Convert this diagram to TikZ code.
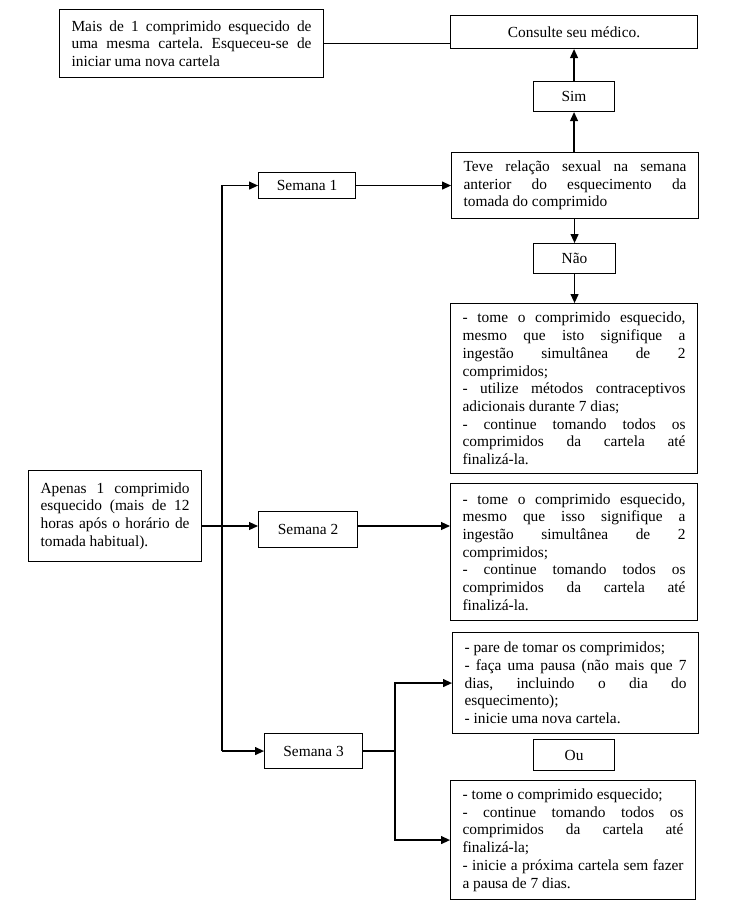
\documentclass[tikz,border=0pt]{standalone}
\usepackage{fontspec}
\setmainfont{Liberation Serif}
\usetikzlibrary{arrows.meta}
\newcommand\bxfont{\fontsize{15.4}{17.7}\selectfont\frenchspacing\hyphenpenalty=10000\exhyphenpenalty=10000\tolerance=10000\hbadness=10000\emergencystretch=0pt}
\tikzset{
  bx/.style={draw, line width=1.1pt, anchor=north west, font=\bxfont, inner ysep=0pt},
  tb/.style={bx, inner xsep=12pt, align=justify},
  sb/.style={bx, inner xsep=0pt, align=center},
  ln/.style={line width=1.2pt},
  arr/.style={ln, -{Triangle[length=9pt,width=8pt]}}
}
\begin{document}
\begin{tikzpicture}[x=1pt,y=-1pt]
\useasboundingbox (0,0) rectangle (734,914);
\node[tb, text width=240pt, minimum height=68pt] (b1) at (59,9)
  {Mais de 1 comprimido esquecido de\linebreak uma mesma cartela. Esqueceu-se de\linebreak iniciar uma nova cartela};
\node[sb, minimum width=247pt, minimum height=33pt] (cons) at (450,15) {Consulte seu médico.};
\node[sb, minimum width=81pt, minimum height=30pt] (sim) at (533,81) {Sim};
\node[tb, text width=223pt, minimum height=66pt] (teve) at (451,152)
  {Teve relação sexual na semana\linebreak anterior do esquecimento da\linebreak tomada do comprimido};
\node[sb, minimum width=97pt, minimum height=26pt] (s1) at (258,172) {Semana 1};
\node[sb, minimum width=82pt, minimum height=30pt] (nao) at (533,243) {Não};
\node[tb, text width=223pt, minimum height=170pt] (b4) at (450,303)
  {- tome o comprimido esquecido,\linebreak mesmo que isto signifique a\linebreak ingestão simultânea de 2\linebreak comprimidos;\newline - utilize métodos contraceptivos\linebreak adicionais durante 7 dias;\newline - continue tomando todos os\linebreak comprimidos da cartela até\linebreak finalizá-la.};
\node[tb, text width=149pt, minimum height=91pt] (ap) at (28,470)
  {Apenas 1 comprimido\linebreak esquecido (mais de 12\linebreak horas após o horário de\linebreak tomada habitual).};
\node[sb, minimum width=99pt, minimum height=36pt] (s2) at (258,511) {Semana 2};
\node[tb, text width=223pt, minimum height=137pt] (b6) at (450,483)
  {- tome o comprimido esquecido,\linebreak mesmo que isso signifique a\linebreak ingestão simultânea de 2\linebreak comprimidos;\newline - continue tomando todos os\linebreak comprimidos da cartela até\linebreak finalizá-la.};
\node[tb, text width=222pt, minimum height=101pt] (b7) at (452,632)
  {- pare de tomar os comprimidos;\newline - faça uma pausa (não mais que 7\linebreak dias, incluindo o dia do\linebreak esquecimento);\newline - inicie uma nova cartela.};
\node[sb, minimum width=98pt, minimum height=35pt] (s3) at (264,733) {Semana 3};
\node[sb, minimum width=81pt, minimum height=31pt] (ou) at (533,739) {Ou};
\node[tb, text width=221pt, minimum height=119pt] (b9) at (450,780)
  {- tome o comprimido esquecido;\newline - continue tomando todos os\linebreak comprimidos da cartela até\linebreak finalizá-la;\newline - inicie a próxima cartela sem fazer\linebreak a pausa de 7 dias.};
\coordinate (tx) at (222,0);
\coordinate (r2) at (0,526);
\coordinate (jx) at (395,0);
\draw[ln] (b1.east) -- (b1.east -| cons.west);
\draw[arr] (sim.north) -- (sim.north |- cons.south);
\draw[arr] (sim.south |- teve.north) -- (sim.south);
\draw[arr] (nao.north |- teve.south) -- (nao.north);
\draw[arr] (nao.south) -- (nao.south |- b4.north);
\draw[arr] (s1.east) -- (s1.east -| teve.west);
\draw[arr] (tx |- s3.west) -- (tx |- s1.west) -- (s1.west);
\draw[arr] (tx |- s3.west) -- (s3.west);
\draw[arr] (ap.east |- r2) -- (s2.west |- r2);
\draw[arr] (s2.east |- r2) -- (b6.west |- r2);
\draw[ln] (s3.east) -- (jx |- s3.east);
\draw[arr] (jx |- s3.east) |- (b7.west);
\draw[arr] (jx |- s3.east) |- (b9.west);
\end{tikzpicture}
\end{document}
